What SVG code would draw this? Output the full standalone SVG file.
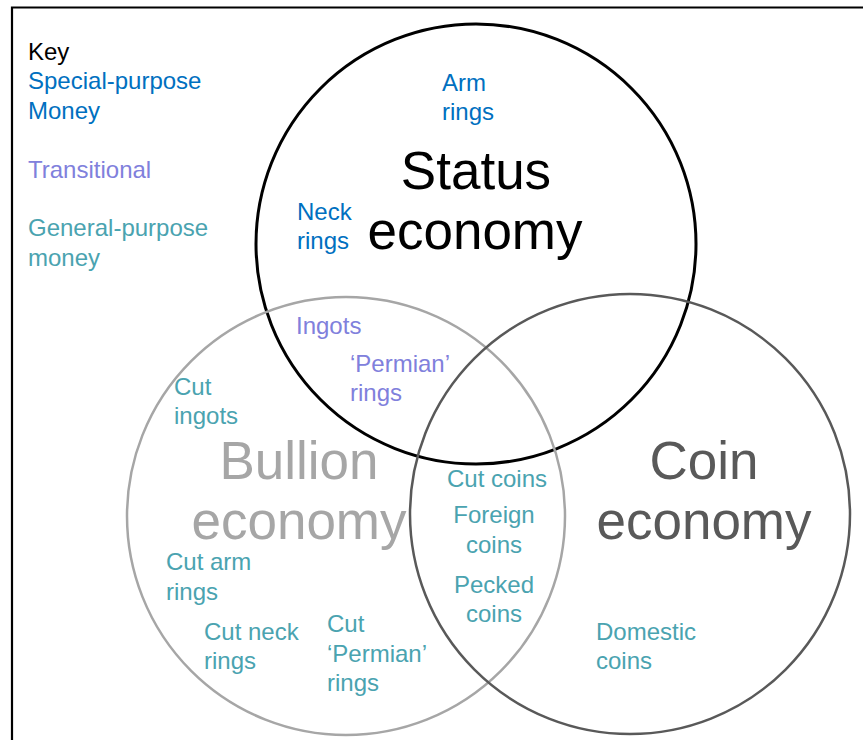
<svg xmlns="http://www.w3.org/2000/svg" width="863" height="740" viewBox="0 0 863 740">
<style>
text{font-family:"Liberation Sans",Arial,sans-serif;font-size:24px}
.sp{fill:#0070c0}
.tr{fill:#8080dc}
.gp{fill:#4aa3b0}
.big{font-size:53px;text-anchor:middle}
.c{fill:none}
.mid{text-anchor:middle}
</style>
<rect width="863" height="740" fill="#ffffff"/>
<path d="M12,740 V7.5 H863" fill="none" stroke="#000" stroke-width="2.2"/>
<g id="key">
<text x="28" y="60" fill="#000">Key</text>
<text class="sp" x="28" y="89">Special-purpose</text>
<text class="sp" x="28" y="119">Money</text>
<text class="tr" x="28" y="178">Transitional</text>
<text class="gp" x="28" y="236">General-purpose</text>
<text class="gp" x="28" y="266">money</text>
</g>
<g id="status-economy">
<circle class="c" cx="476" cy="244" r="220" stroke="#000" stroke-width="3"/>
<text class="big" x="476" y="189" fill="#000">Status</text>
<text class="big" x="475" y="249" fill="#000">economy</text>
</g>
<g id="bullion-economy">
<circle class="c" cx="346" cy="516" r="219" stroke="#a6a6a6" stroke-width="2.5"/>
<text class="big" x="299" y="479" fill="#a6a6a6">Bullion</text>
<text class="big" x="299" y="539" fill="#a6a6a6">economy</text>
</g>
<g id="coin-economy">
<circle class="c" cx="630" cy="514" r="220" stroke="#595959" stroke-width="2.5"/>
<text class="big" x="704" y="479" fill="#595959">Coin</text>
<text class="big" x="704" y="539" fill="#595959">economy</text>
</g>
<g id="labels">
<text class="sp" x="442" y="91">Arm</text>
<text class="sp" x="442" y="120">rings</text>
<text class="sp" x="297" y="220">Neck</text>
<text class="sp" x="297" y="249">rings</text>
<text class="tr" x="296" y="334">Ingots</text>
<text class="tr" x="350" y="372">‘Permian’</text>
<text class="tr" x="350" y="401">rings</text>
<text class="gp" x="174" y="395">Cut</text>
<text class="gp" x="174" y="424">ingots</text>
<text class="gp mid" x="497" y="487">Cut coins</text>
<text class="gp mid" x="494" y="523">Foreign</text>
<text class="gp mid" x="494" y="553">coins</text>
<text class="gp mid" x="494" y="593">Pecked</text>
<text class="gp mid" x="494" y="622">coins</text>
<text class="gp" x="166" y="570">Cut arm</text>
<text class="gp" x="166" y="600">rings</text>
<text class="gp" x="204" y="640">Cut neck</text>
<text class="gp" x="204" y="669">rings</text>
<text class="gp" x="327" y="632">Cut</text>
<text class="gp" x="327" y="662">‘Permian’</text>
<text class="gp" x="327" y="691">rings</text>
<text class="gp" x="596" y="640">Domestic</text>
<text class="gp" x="596" y="669">coins</text>
</g>
</svg>
